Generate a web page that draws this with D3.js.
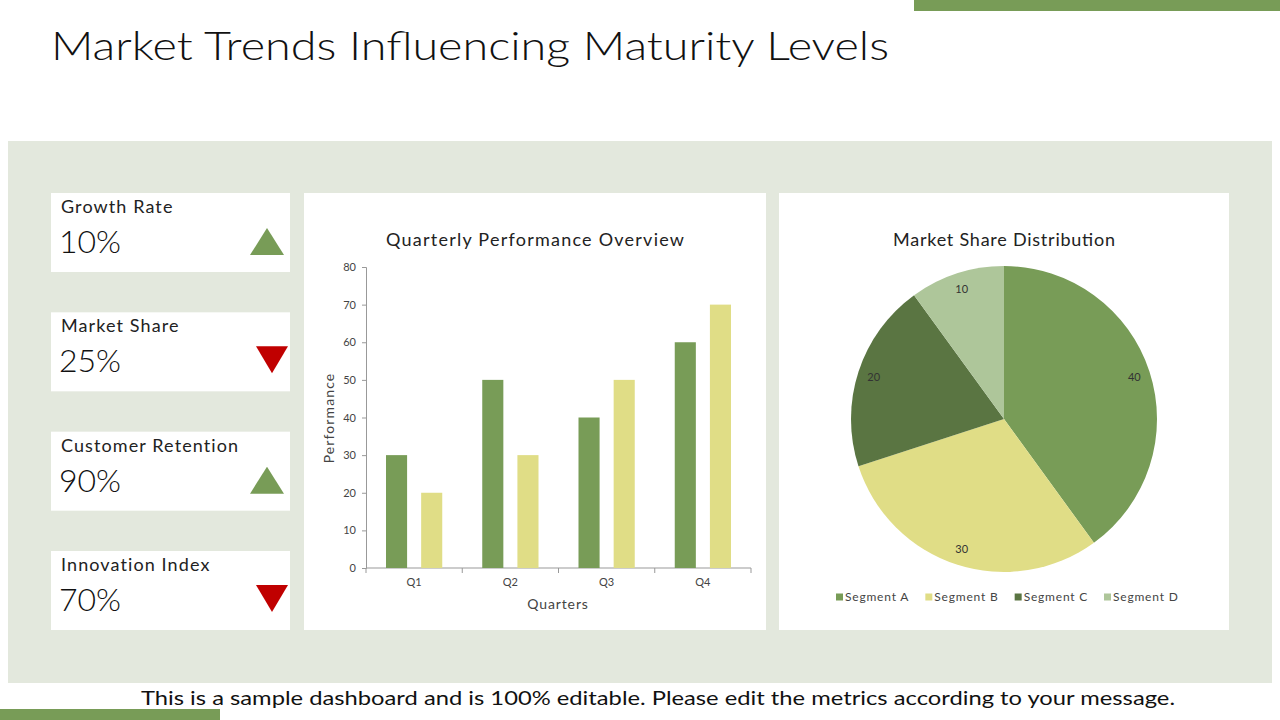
<!DOCTYPE html>
<html>
<head>
<meta charset="utf-8">
<script src="https://cdn.jsdelivr.net/npm/d3@7"></script>
<style>
  body { margin: 0; background: #fff; }
  svg text { font-family: "Lato", "Open Sans", sans-serif; }
</style>
</head>
<body>
<svg id="chart" width="1280" height="720"></svg>
<script>
// data
const kpiNames = ["Growth Rate", "Market Share", "Customer Retention", "Innovation Index"];
const kpiValues = ["10%", "25%", "90%", "70%"];
const kpiTrend = ["up", "down", "up", "down"];

const quarters = ["Q1", "Q2", "Q3", "Q4"];
const seriesA = [30, 50, 40, 60];
const seriesB = [20, 30, 50, 70];
const yTicks = [0, 10, 20, 30, 40, 50, 60, 70, 80];

const segments = ["Segment A", "Segment B", "Segment C", "Segment D"];
const shares = [40, 30, 20, 10];

const green = "#789c57";
const yellow = "#e0dd86";
const segColors = ["#789c57", "#e0dd86", "#5a7542", "#aec69a"];

const svg = d3.select("#chart");

// decoration
svg.append("rect").attr("x", 914).attr("y", 0).attr("width", 366).attr("height", 11).attr("fill", green);
svg.append("rect").attr("x", 0).attr("y", 709).attr("width", 220).attr("height", 11).attr("fill", green);
svg.append("text").attr("x", 51).attr("y", 60)
  .attr("font-size", 40).attr("font-weight", 300).attr("fill", "#111")
  .attr("textLength", 838).attr("lengthAdjust", "spacingAndGlyphs")
  .text("Market Trends Influencing Maturity Levels");

svg.append("rect").attr("x", 8).attr("y", 141).attr("width", 1264).attr("height", 542).attr("fill", "#e3e8dd");

svg.append("text").attr("x", 658).attr("y", 705).attr("text-anchor", "middle")
  .attr("font-size", 20).attr("fill", "#111")
  .attr("textLength", 1034).attr("lengthAdjust", "spacingAndGlyphs")
  .text("This is a sample dashboard and is 100% editable. Please edit the metrics according to your message.");

// KPI cards
const cardY = d3.scalePoint().domain(kpiNames).range([193, 551]);
const cards = svg.selectAll("g.kpi").data(kpiNames).enter().append("g")
  .attr("class", "kpi")
  .attr("transform", d => `translate(51,${cardY(d)})`);
cards.append("rect").attr("width", 239).attr("height", 79).attr("fill", "#fff");
cards.append("text").attr("x", 10).attr("y", 20).attr("font-size", 18)
  .attr("letter-spacing", 1.1).attr("fill", "#222").text(d => d);
cards.append("text").attr("x", 8).attr("y", 60).attr("font-size", 32).attr("font-weight", 300)
  .attr("fill", "#111").text((d, i) => kpiValues[i]);
cards.append("path")
  .attr("d", (d, i) => kpiTrend[i] === "up"
    ? "M199,62 L216,35 L233,62 Z"
    : "M205,34 L237,34 L221,61 Z")
  .attr("fill", (d, i) => kpiTrend[i] === "up" ? green : "#c00000");

// chart cards
svg.append("rect").attr("x", 304).attr("y", 193).attr("width", 462).attr("height", 437).attr("fill", "#fff");
svg.append("rect").attr("x", 779).attr("y", 193).attr("width", 450).attr("height", 437).attr("fill", "#fff");

const x0 = d3.scaleBand().domain(quarters).range([366, 751]);
const x1 = d3.scaleBand().domain([0, 1]).range([20, x0.bandwidth() - 20]).paddingInner(0.4);
const y = d3.scaleLinear().domain([0, 80]).range([568, 267]);

svg.append("text").attr("x", 535).attr("y", 246).attr("text-anchor", "middle")
  .attr("font-size", 18).attr("fill", "#222")
  .attr("textLength", 298).attr("lengthAdjust", "spacing")
  .text("Quarterly Performance Overview");

const yAxis = svg.append("g").attr("transform", "translate(366,0)")
  .call(d3.axisLeft(y).tickValues(yTicks).tickSize(4).tickPadding(6));
yAxis.selectAll("text").attr("font-size", 11).attr("fill", "#444");
yAxis.selectAll("line, path").attr("stroke", "#999");

const xAxis = svg.append("g").attr("transform", "translate(0,568)")
  .call(d3.axisBottom(x0).tickSize(0).tickPadding(10));
xAxis.selectAll("text").attr("font-size", 11).attr("fill", "#444");
xAxis.select("path").attr("stroke", "#999").attr("d", "M366,0H751");
xAxis.selectAll(".sep").data(d3.range(quarters.length + 1)).enter().append("line")
  .attr("class", "sep")
  .attr("x1", i => 366 + i * x0.bandwidth()).attr("x2", i => 366 + i * x0.bandwidth())
  .attr("y1", 0).attr("y2", 5).attr("stroke", "#999");

const groups = svg.selectAll("g.q").data(quarters).enter().append("g")
  .attr("transform", d => `translate(${x0(d)},0)`);
groups.append("rect").attr("x", x1(0)).attr("width", x1.bandwidth())
  .attr("y", (d, i) => y(seriesA[i])).attr("height", (d, i) => y(0) - y(seriesA[i])).attr("fill", green);
groups.append("rect").attr("x", x1(1)).attr("width", x1.bandwidth())
  .attr("y", (d, i) => y(seriesB[i])).attr("height", (d, i) => y(0) - y(seriesB[i])).attr("fill", yellow);

svg.append("text").attr("x", 558).attr("y", 609).attr("text-anchor", "middle")
  .attr("font-size", 14).attr("letter-spacing", 0.9).attr("fill", "#444").text("Quarters");
svg.append("text").attr("transform", "translate(334,418) rotate(-90)").attr("text-anchor", "middle")
  .attr("font-size", 14).attr("letter-spacing", 1.1).attr("fill", "#444").text("Performance");

// pie chart
const cx = 1004, cy = 419, r = 153;
svg.append("text").attr("x", cx).attr("y", 246).attr("text-anchor", "middle")
  .attr("font-size", 18).attr("fill", "#222")
  .attr("textLength", 222).attr("lengthAdjust", "spacing")
  .text("Market Share Distribution");

const pie = d3.pie().sort(null).value(d => d);
const arcs = pie(shares);
const arc = d3.arc().innerRadius(0).outerRadius(r);
const labelArc = d3.arc().innerRadius(137).outerRadius(137);
const pg = svg.append("g").attr("transform", `translate(${cx},${cy})`);
pg.selectAll("path").data(arcs).enter().append("path")
  .attr("d", arc).attr("fill", (d, i) => segColors[i]);
pg.selectAll("text").data(arcs).enter().append("text")
  .attr("transform", d => `translate(${labelArc.centroid(d)})`)
  .attr("text-anchor", "middle").attr("dy", "0.35em")
  .attr("font-size", 11).attr("fill", "#333").text(d => d.data);

const legX = d3.scalePoint().domain(segments).range([836, 1104]);
const leg = svg.selectAll("g.leg").data(segments).enter().append("g")
  .attr("transform", d => `translate(${legX(d)},597)`);
leg.append("rect").attr("x", 0).attr("y", -3.5).attr("width", 7).attr("height", 7)
  .attr("fill", (d, i) => segColors[i]);
leg.append("text").attr("x", 9).attr("dy", "0.35em").attr("font-size", 12)
  .attr("letter-spacing", 0.8).attr("fill", "#444").text(d => d);
</script>
</body>
</html>
